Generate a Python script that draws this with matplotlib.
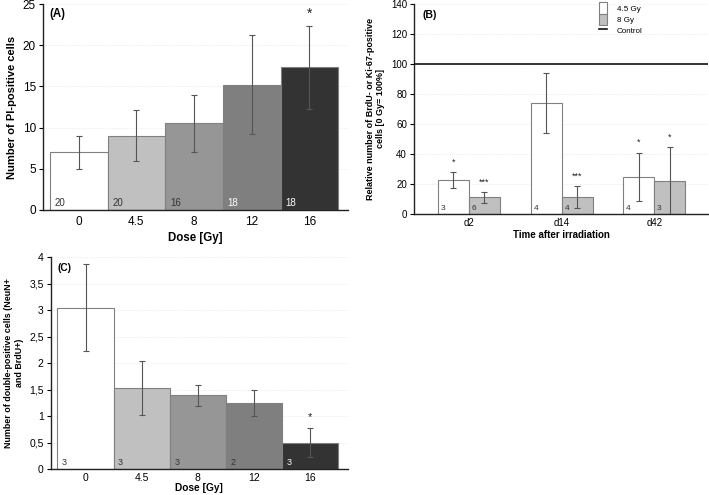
import numpy as np
import matplotlib
matplotlib.use('Agg')
import matplotlib.pyplot as plt
import matplotlib.transforms as mtrans
from matplotlib.patches import Patch
from matplotlib.lines import Line2D
from matplotlib.ticker import FuncFormatter, MultipleLocator

plt.rcParams['font.family'] = ['Liberation Sans', 'DejaVu Sans']

# ── Data ──
doses = ['0', '4.5', '8', '12', '16']

pi_mean = [7.0, 9.0, 10.5, 15.2, 17.3]
pi_err = [2.0, 3.1, 3.5, 6.0, 5.0]
pi_n = ['20', '20', '16', '18', '18']
pi_sig = ['', '', '', '', '*']

days = ['d2', 'd14', 'd42']
rel_45 = [22.6, 74.0, 24.9]
rel_45_err = [5.5, 20.2, 16.0]
rel_45_n = ['3', '4', '4']
rel_45_sig = ['*', '', '*']
rel_8 = [11.1, 11.5, 22.0]
rel_8_err = [3.7, 7.2, 22.5]
rel_8_n = ['6', '4', '3']
rel_8_sig = ['***', '***', '*']
control_level = 100

dp_mean = [3.05, 1.53, 1.39, 1.25, 0.50]
dp_err = [0.82, 0.51, 0.20, 0.25, 0.28]
dp_n = ['3', '3', '3', '2', '3']
dp_sig = ['', '', '', '', '*']

# ── Styling ──
dose_colors = ['#ffffff', '#c0c0c0', '#969696', '#7f7f7f', '#333333']
edge = '#808080'
err_kw = dict(ecolor='#555555', elinewidth=0.8, capsize=2, capthick=0.8)
grid_kw = dict(color='#e4e4e4', linewidth=0.6, linestyle=':')


def style_axes(ax, fs, xpad=4):
    for s in ('top', 'right'):
        ax.spines[s].set_visible(False)
    for s in ('left', 'bottom'):
        ax.spines[s].set_linewidth(1.0)
        ax.spines[s].set_color('#222222')
    ax.tick_params(axis='y', direction='out', length=3, width=0.8, labelsize=fs, pad=2)
    ax.tick_params(axis='x', length=0, labelsize=fs, pad=xpad)
    ax.yaxis.grid(True, **grid_kw)
    ax.set_axisbelow(True)


def dose_panel(ax, means, errs, ns, sigs, ylim, step, ylabel, tag, fs, lab_fs, ylab_fs,
               n_fs, star_fs, n_white, xpad=4, xlabpad=3, fmt=None):
    x = np.arange(len(doses))
    ax.bar(x, means, width=1.0, color=dose_colors, edgecolor=edge, linewidth=0.8,
           yerr=errs, error_kw=err_kw, zorder=2)
    trans = mtrans.blended_transform_factory(ax.transData, ax.transAxes)
    for i, n in enumerate(ns):
        ax.text(x[i] - 0.42, 0.008, n, transform=trans, ha='left', va='bottom',
                fontsize=n_fs, color='white' if i >= n_white else '#333333', zorder=4)
    for i, s in enumerate(sigs):
        if s:
            ax.annotate(s, (x[i], means[i] + errs[i]), xytext=(0, 4),
                        textcoords='offset points', ha='center', va='bottom',
                        fontsize=star_fs, color='#222222')
    ax.set_xlim(-0.62, 4.67)
    ax.set_ylim(*ylim)
    ax.yaxis.set_major_locator(MultipleLocator(step))
    if fmt:
        ax.yaxis.set_major_formatter(FuncFormatter(fmt))
    ax.set_xticks(x)
    ax.set_xticklabels(doses)
    style_axes(ax, fs, xpad)
    ax.set_xlabel('Dose [Gy]', fontsize=lab_fs, fontweight='bold', labelpad=xlabpad)
    ax.set_ylabel(ylabel, fontsize=ylab_fs, fontweight='bold', labelpad=4)
    ax.text(0.022, 0.95, tag, transform=ax.transAxes, fontsize=lab_fs,
            fontweight='bold', va='center', ha='left')


fig = plt.figure(figsize=(7.09, 4.95), dpi=100)
fig.patch.set_facecolor('white')

# ── (A) PI-positive cells ──
axA = fig.add_axes([0.0606, 0.5758, 0.4302, 0.4161])
dose_panel(axA, pi_mean, pi_err, pi_n, pi_sig, (0, 25), 5,
           'Number of PI-positive cells', '(A)', 8.5, 8.3, 8.0, 7, 10, 3)

# ── (B) relative BrdU / Ki-67 ──
axB = fig.add_axes([0.5839, 0.5677, 0.4147, 0.4242])
xb = np.arange(len(days))
w = 0.334
axB.bar(xb - w / 2, rel_45, width=w, color='white', edgecolor=edge, linewidth=0.8,
        yerr=rel_45_err, error_kw=err_kw, zorder=2)
axB.bar(xb + w / 2, rel_8, width=w, color='#c0c0c0', edgecolor=edge, linewidth=0.8,
        yerr=rel_8_err, error_kw=err_kw, zorder=2)
axB.axhline(control_level, color='#111111', linewidth=1.2, zorder=3)
transB = mtrans.blended_transform_factory(axB.transData, axB.transAxes)
for i in range(len(days)):
    axB.text(xb[i] - w + 0.03, 0.008, rel_45_n[i], transform=transB, ha='left',
             va='bottom', fontsize=6, color='#333333')
    axB.text(xb[i] + 0.03, 0.008, rel_8_n[i], transform=transB, ha='left',
             va='bottom', fontsize=6, color='#333333')
    for off, m, e, s in ((-w / 2, rel_45[i], rel_45_err[i], rel_45_sig[i]),
                         (w / 2, rel_8[i], rel_8_err[i], rel_8_sig[i])):
        if s:
            axB.annotate(s, (xb[i] + off, m + e), xytext=(0, 4),
                         textcoords='offset points', ha='center', va='bottom',
                         fontsize=6.5, color='#222222')
axB.set_xlim(-0.593, 2.579)
axB.set_ylim(0, 140)
axB.yaxis.set_major_locator(MultipleLocator(20))
axB.set_xticks(xb)
axB.set_xticklabels(days)
style_axes(axB, 7, 3)
axB.set_xlabel('Time after irradiation', fontsize=7, fontweight='bold', labelpad=1)
axB.set_ylabel('Relative number of BrdU- or Ki-67-positive\ncells [0 Gy= 100%]',
               fontsize=6.5, fontweight='bold', labelpad=4)
axB.text(0.03, 0.948, '(B)', transform=axB.transAxes, fontsize=7.5,
         fontweight='bold', va='center', ha='left')
handles = [Patch(facecolor='white', edgecolor=edge, linewidth=0.8, label='4.5 Gy'),
           Patch(facecolor='#c0c0c0', edgecolor=edge, linewidth=0.8, label='8 Gy'),
           Line2D([0], [0], color='#111111', linewidth=1.2, label='Control')]
axB.legend(handles=handles, loc='upper left', bbox_to_anchor=(0.61, 1.035),
           frameon=False, fontsize=5.8, handlelength=1.0, handleheight=1.8,
           handletextpad=1.2, labelspacing=0.0, borderpad=0.2)

# ── (C) NeuN+/BrdU+ cells ──
axC = fig.add_axes([0.0715, 0.0525, 0.4193, 0.4277])
dose_panel(axC, dp_mean, dp_err, dp_n, dp_sig, (0, 4), 0.5,
           'Number of double-positive cells (NeuN+\nand BrdU+)', '(C)',
           7.5, 7.3, 6.4, 6.5, 8, 4, xpad=3, xlabpad=0,
           fmt=lambda v, p: f'{v:g}'.replace('.', ','))

fig.savefig('out.png', dpi=100, facecolor='white')
